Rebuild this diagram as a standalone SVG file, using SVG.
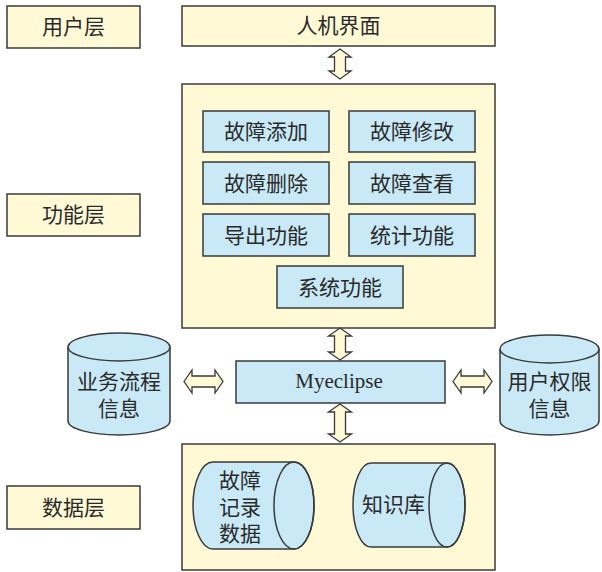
<svg xmlns="http://www.w3.org/2000/svg" width="602" height="572" viewBox="0 0 602 572">
<style>
.y{fill:#FFF9D5;stroke:#3a3a3a;stroke-width:1.5}
.b{fill:#C9E9F7;stroke:#3a3a3a;stroke-width:1.5}
.t{font-family:"Liberation Sans","Noto Sans CJK SC",sans-serif;font-size:21px;fill:#2a2a2a;text-anchor:middle}
.m{font-family:"Liberation Serif",serif;font-size:21px;fill:#2a2a2a;text-anchor:middle}
.a{fill:#FFF9D5;stroke:#3a3a3a;stroke-width:1.3}
</style>
<rect width="602" height="572" fill="#fff"/>
<g id="layer-user"><rect class="y" x="7" y="6" width="133" height="42"/><text class="t" x="73.5" y="34">用户层</text></g>
<g id="layer-func"><rect class="y" x="7" y="194" width="133" height="42"/><text class="t" x="73.5" y="222">功能层</text></g>
<g id="layer-data"><rect class="y" x="7" y="486" width="133" height="43"/><text class="t" x="73.5" y="515">数据层</text></g>
<g id="ui"><rect class="y" x="182" y="6" width="313" height="40"/><text class="t" x="338.5" y="33">人机界面</text></g>
<g id="func-container"><rect class="y" x="182" y="84" width="313" height="244"/></g>
<g id="f1"><rect class="b" x="203" y="111" width="126" height="41"/><text class="t" x="266" y="139">故障添加</text></g>
<g id="f2"><rect class="b" x="349" y="111" width="126" height="41"/><text class="t" x="412" y="139">故障修改</text></g>
<g id="f3"><rect class="b" x="203" y="162" width="126" height="42"/><text class="t" x="266" y="191">故障删除</text></g>
<g id="f4"><rect class="b" x="349" y="162" width="126" height="42"/><text class="t" x="412" y="191">故障查看</text></g>
<g id="f5"><rect class="b" x="203" y="214" width="126" height="42"/><text class="t" x="266" y="243">导出功能</text></g>
<g id="f6"><rect class="b" x="349" y="214" width="126" height="42"/><text class="t" x="412" y="243">统计功能</text></g>
<g id="f7"><rect class="b" x="277" y="266" width="126" height="42"/><text class="t" x="340" y="295">系统功能</text></g>
<g id="myeclipse"><rect class="b" x="236" y="361" width="209" height="42"/><text class="m" x="339" y="388">Myeclipse</text></g>
<g id="db-business">
<path class="b" d="M68,347 A51,14 0 0 1 170,347 L170,421 A51,14 0 0 1 68,421 Z"/>
<path d="M68,347 A51,14 0 0 0 170,347" fill="none" stroke="#3a3a3a" stroke-width="1.5"/>
<text class="t" x="119" y="389">业务流程</text><text class="t" x="119" y="416">信息</text></g>
<g id="db-auth">
<path class="b" d="M500,349 A49.5,14 0 0 1 599,349 L599,421 A49.5,14 0 0 1 500,421 Z"/>
<path d="M500,349 A49.5,14 0 0 0 599,349" fill="none" stroke="#3a3a3a" stroke-width="1.5"/>
<text class="t" x="549.5" y="389">用户权限</text><text class="t" x="549.5" y="416">信息</text></g>
<g id="data-container"><rect class="y" x="182" y="444" width="313" height="126"/></g>
<g id="db-fault">
<path class="b" d="M213,462 L294,462 A20,43.5 0 0 1 294,549 L213,549 A20,43.5 0 0 1 213,462 Z"/>
<ellipse cx="294" cy="505.5" rx="20" ry="43.5" fill="none" stroke="#3a3a3a" stroke-width="1.5"/>
<text class="t" x="240" y="488">故障</text><text class="t" x="240" y="515">记录</text><text class="t" x="240" y="541">数据</text></g>
<g id="db-knowledge">
<path class="b" d="M371,463 L447,463 A18,42 0 0 1 447,547 L371,547 A18,42 0 0 1 371,463 Z"/>
<ellipse cx="447" cy="505" rx="18" ry="42" fill="none" stroke="#3a3a3a" stroke-width="1.5"/>
<text class="t" x="393.5" y="512">知识库</text></g>
<g id="connectors">
<path class="a" d="M340,49 L351,57 L345.5,57 L345.5,71 L351,71 L340,79 L329,71 L334.5,71 L334.5,57 L329,57 Z"/>
<path class="a" d="M340,328 L351.5,336 L345.5,336 L345.5,352 L351.5,352 L340,360 L328.5,352 L334.5,352 L334.5,336 L328.5,336 Z"/>
<path class="a" d="M340,404 L351.5,412 L345.5,412 L345.5,434 L351.5,434 L340,442 L328.5,434 L334.5,434 L334.5,412 L328.5,412 Z"/>
<path class="a" d="M184,381.5 L192,370 L192,376 L215,376 L215,370 L223,381.5 L215,393 L215,387 L192,387 L192,393 Z"/>
<path class="a" d="M453,381.5 L461,370 L461,376 L484,376 L484,370 L492,381.5 L484,393 L484,387 L461,387 L461,393 Z"/>
</g>
</svg>
